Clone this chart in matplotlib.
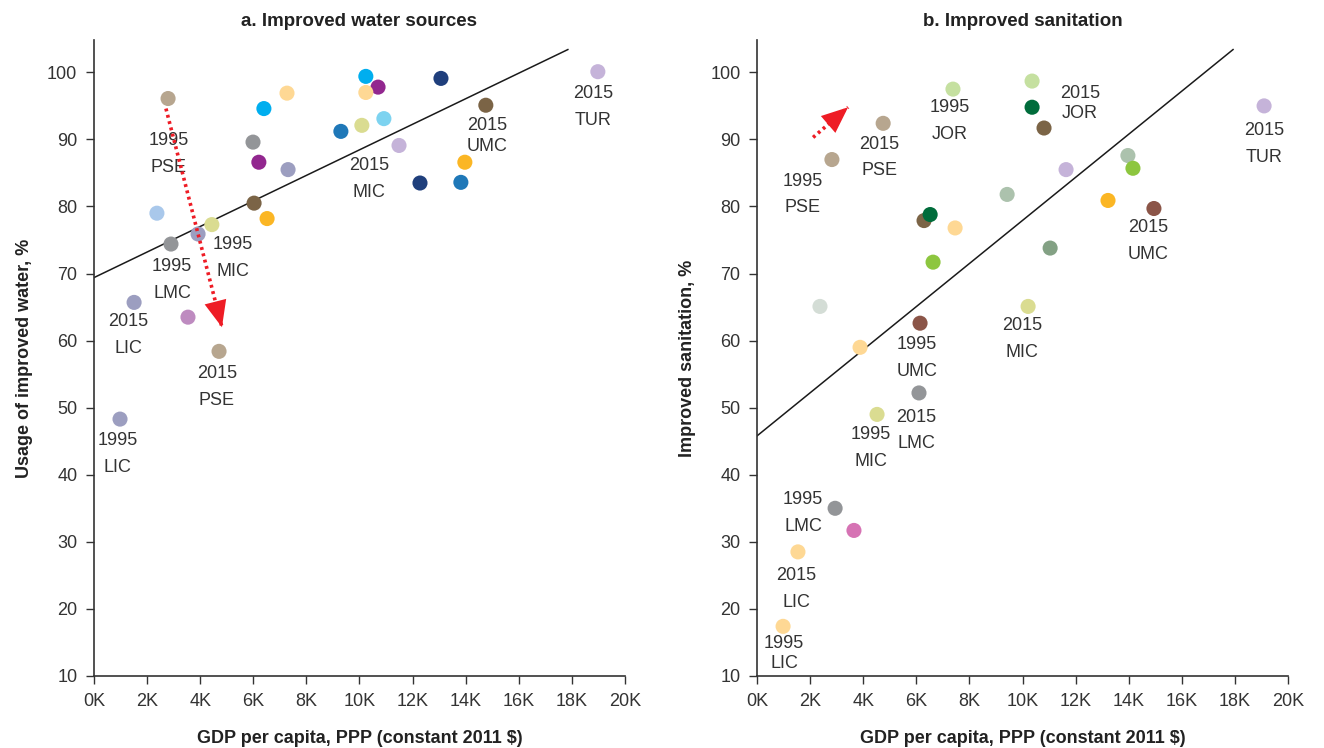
"""
GDP per capita vs. improved water sources / improved sanitation, 1995 and 2015.
"""
import matplotlib
matplotlib.use("Agg")
import matplotlib.pyplot as plt
from matplotlib.ticker import FuncFormatter

plt.rcParams["font.family"] = ["Liberation Sans", "DejaVu Sans"]

# ---------------------------------------------------------------------------
# Data (GDP per capita in thousands, PPP constant 2011 $)
# ---------------------------------------------------------------------------
water_gdp = [2.79, 6.40, 7.27, 10.24, 10.70, 10.24, 13.07, 14.76, 18.98,
             5.99, 6.21, 7.31, 9.30, 10.09, 10.92, 11.49, 12.28, 13.97,
             13.82, 2.37, 6.03, 6.52, 4.44, 3.92, 2.90, 1.51, 3.54, 4.71, 0.98]
water_pct = [96.1, 94.6, 96.9, 99.4, 97.8, 97.0, 99.1, 95.1, 100.1,
             89.6, 86.6, 85.5, 91.2, 92.1, 93.1, 89.1, 83.5, 86.6,
             83.6, 79.0, 80.5, 78.2, 77.3, 75.9, 74.4, 65.7, 63.5, 58.4, 48.3]
water_colors = ["#b7a68f", "#00aeef", "#fed894", "#00aeef", "#92278f", "#fed894",
                "#1f3f7c", "#7b6446", "#c5b3d9", "#939598", "#92278f", "#9c9ec0",
                "#1f78b8", "#dadc91", "#7dd3f0", "#c5b3d9", "#1f3f7c", "#fbb624",
                "#1f78b8", "#a9c8eb", "#7b6446", "#fbb624", "#dadc91", "#9c9ec0",
                "#939598", "#9c9ec0", "#be8bc0", "#b7a68f", "#9c9ec0"]

san_gdp = [2.82, 4.75, 7.38, 10.36, 10.36, 10.81, 19.10, 13.97, 14.16, 11.64,
           9.42, 13.22, 14.95, 6.29, 6.52, 7.46, 6.63, 11.04, 2.37, 10.21,
           6.14, 3.88, 6.10, 4.52, 2.94, 3.65, 1.54, 0.98]
san_pct = [87.0, 92.4, 97.5, 98.7, 94.8, 91.7, 95.0, 87.6, 85.7, 85.5,
           81.8, 80.9, 79.7, 77.9, 78.8, 76.8, 71.7, 73.8, 65.1, 65.1,
           62.6, 59.0, 52.2, 49.0, 35.0, 31.7, 28.5, 17.4]
san_colors = ["#b7a68f", "#b7a68f", "#c5e0a0", "#c5e0a0", "#006c3b", "#7b6446",
              "#c5b3d9", "#acc2ad", "#8dc63f", "#c5b3d9", "#acc2ad", "#fbb624",
              "#8b5548", "#7b6446", "#006c3b", "#fed894", "#8dc63f", "#83a184",
              "#d4ddd6", "#dadc91", "#8b5548", "#fed894", "#939598", "#dadc91",
              "#939598", "#d673b4", "#fed894", "#fed894"]

# Point labels: text, x, y, tight spacing?
water_labels = ["1995\nPSE", "1995\nMIC", "1995\nLMC", "2015\nLIC", "2015\nPSE",
                "1995\nLIC", "2015\nMIC", "2015\nUMC", "2015\nTUR"]
water_lab_x = [2.82, 5.24, 2.94, 1.28, 4.63, 0.90, 10.36, 14.80, 18.80]
water_lab_y = [87.8, 72.3, 69.0, 60.8, 53.1, 43.1, 84.1, 90.5, 94.8]
water_lab_tight = [False, False, False, False, False, False, False, True, False]

san_labels = ["1995\nPSE", "2015\nPSE", "1995\nJOR", "2015\nJOR", "2015\nTUR",
              "2015\nUMC", "2015\nMIC", "1995\nUMC", "2015\nLMC", "1995\nMIC",
              "1995\nLMC", "2015\nLIC", "1995\nLIC"]
san_lab_x = [1.73, 4.60, 7.27, 12.17, 19.10, 14.73, 9.98, 6.03, 5.99, 4.29,
             1.73, 1.47, 1.02]
san_lab_y = [81.8, 87.3, 92.7, 95.4, 89.3, 74.9, 60.2, 57.4, 46.6, 44.0,
             34.3, 23.0, 13.3]
san_lab_tight = [False, False, False, True, False, False, False, False, False,
                 False, False, False, True]

# Fitted lines (end points)
water_fit_x = [0.0, 17.85]
water_fit_y = [69.4, 103.4]
san_fit_x = [0.0, 17.93]
san_fit_y = [45.8, 103.4]

# Red arrows (start, tip)
water_arrow_x = [2.71, 4.82]
water_arrow_y = [94.6, 62.0]
san_arrow_x = [2.11, 3.43]
san_arrow_y = [90.3, 94.8]

x_ticks = list(range(0, 21, 2))
y_ticks = list(range(10, 101, 10))

TEXT = "#333333"
RED = "#ee1c25"


def draw_panel(ax, gdp, pct, colors, labels, lab_x, lab_y, lab_tight,
               fit_x, fit_y, arrow_x, arrow_y, title, ylabel):
    ax.plot(fit_x, fit_y, color="#1a1a1a", lw=1.1, zorder=1)
    ax.scatter(gdp, pct, s=118, c=colors, edgecolors="none", zorder=3)
    for txt, lx, ly, tight in zip(labels, lab_x, lab_y, lab_tight):
        ax.text(lx, ly, txt, ha="center", va="center", fontsize=13,
                color=TEXT, linespacing=1.25 if tight else 1.75, zorder=4)

    # dotted shaft + filled head (shaft of the arrow patch itself is hidden)
    ax.plot(arrow_x, arrow_y, color=RED, lw=2.6, linestyle=(0, (0.8, 1.0)),
            solid_capstyle="butt", zorder=5)
    ax.annotate("", xy=(arrow_x[1], arrow_y[1]), xytext=(arrow_x[0], arrow_y[0]),
                arrowprops=dict(arrowstyle="-|>,head_length=0.95,head_width=0.4",
                                facecolor=RED, edgecolor="none", lw=0,
                                shrinkA=0, shrinkB=0, mutation_scale=20),
                zorder=6)

    ax.set_xlim(0, 20)
    ax.set_ylim(10, 104.8)
    ax.set_xticks(x_ticks)
    ax.set_yticks(y_ticks)
    ax.xaxis.set_major_formatter(FuncFormatter(lambda v, p: f"{int(v)}K"))
    ax.spines["top"].set_visible(False)
    ax.spines["right"].set_visible(False)
    for side in ("left", "bottom"):
        ax.spines[side].set_color("#333333")
        ax.spines[side].set_linewidth(1.2)
    ax.tick_params(direction="out", length=6, width=1, color="#333333",
                   labelsize=13, labelcolor=TEXT, pad=6)
    ax.set_title(title, fontsize=13.5, fontweight="bold", color="#222222", pad=10)
    ax.set_xlabel("GDP per capita, PPP (constant 2011 $)", fontsize=13,
                  fontweight="bold", color="#222222", labelpad=15)
    ax.set_ylabel(ylabel, fontsize=13, fontweight="bold", color="#222222",
                  labelpad=10)


fig = plt.figure(figsize=(13.24, 7.48), dpi=100)
ax_a = fig.add_axes([0.0710, 0.0963, 0.401, 0.850])
ax_b = fig.add_axes([0.5718, 0.0963, 0.401, 0.850])

draw_panel(ax_a, water_gdp, water_pct, water_colors, water_labels, water_lab_x,
           water_lab_y, water_lab_tight, water_fit_x, water_fit_y,
           water_arrow_x, water_arrow_y,
           "a. Improved water sources", "Usage of improved water, %")
draw_panel(ax_b, san_gdp, san_pct, san_colors, san_labels, san_lab_x,
           san_lab_y, san_lab_tight, san_fit_x, san_fit_y,
           san_arrow_x, san_arrow_y,
           "b. Improved sanitation", "Improved sanitation, %")

fig.savefig("out.png", dpi=100)
